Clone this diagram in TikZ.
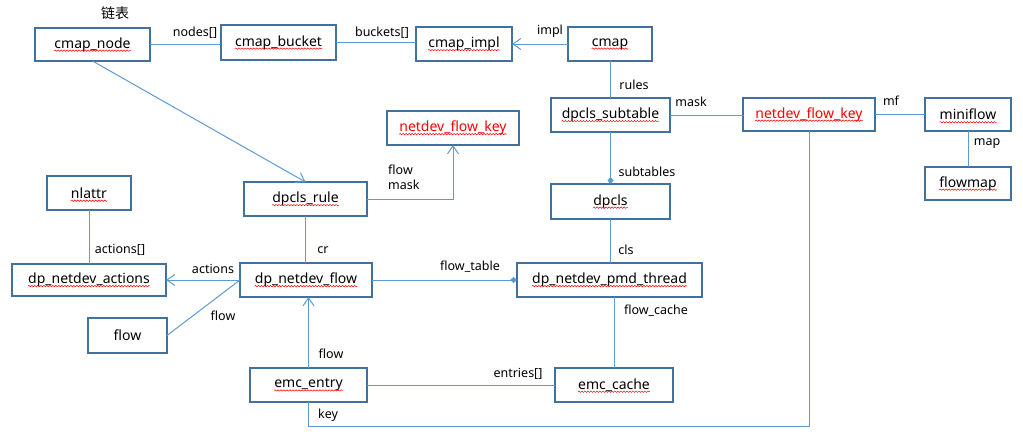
\documentclass[tikz,border=0pt]{standalone}
\usepackage{fontspec}
\setmainfont{Noto Sans}
\newfontfamily\cjk{Noto Sans CJK SC}
\usetikzlibrary{arrows.meta,decorations.pathmorphing}
\definecolor{linec}{HTML}{5B9BD5}
\definecolor{boxc}{HTML}{41719C}
\tikzset{
  box/.style={draw=boxc, line width=1.2pt, fill=white, inner sep=0pt, outer sep=0pt},
  boxtext/.style={inner sep=0pt, font=\fontsize{14}{16}\selectfont},
  lab/.style={inner sep=0pt, font=\fontsize{12.5}{15}\selectfont},
  squig/.style={draw=red, line width=0.5pt, decorate, decoration={snake, amplitude=0.7pt, segment length=3pt}},
  nosq/.style={draw=none},
  conn/.style={draw=linec, line width=1pt},
  openarr/.style={conn, -{Straight Barb[length=8pt,width=11pt]}},
  diam/.style={conn, -{Diamond[length=7pt,width=6pt,fill=linec]}},
}
\newcommand\bx[7][squig]{%
  \pgfmathsetmacro\bxw{#5-#3}%
  \pgfmathsetmacro\bxh{#6-#4}%
  \node[box, minimum width=\bxw pt, minimum height=\bxh pt] (#2) at ({(#3+#5)/2},{(#4+#6)/2}) {};
  \node[boxtext] (#2-t) at (#2) {#7};
  \path[#1] ([yshift=-2.5pt]#2-t.base west) -- ([yshift=-2.5pt]#2-t.base east);
}
\begin{document}
\begin{tikzpicture}[x=1pt, y=-1pt]
\fill[white] (0,0) rectangle (1023,439);
\useasboundingbox (0,0) rectangle (1023,439);

% connectors first (boxes drawn on top)
\coordinate (kb) at (0,426);

\bx{cn}{35}{28}{150}{61}{cmap\_node}
\bx{cb}{221}{25}{336}{60}{cmap\_bucket}
\bx{ci}{416}{27}{512}{61}{cmap\_impl}
\bx{cm}{568}{27}{652}{61}{cmap}
\bx{nfka}{387}{111}{519}{145}{\color{red}netdev\_flow\_key}
\bx{dst}{551}{98}{670}{132}{dpcls\_subtable}
\bx{nfkb}{743}{98}{875}{131}{\color{red}netdev\_flow\_key}
\bx{mfl}{925}{98}{1011}{131}{miniflow}
\bx{fm}{925}{167}{1011}{200}{flowmap}
\bx{dp}{551}{184}{670}{219}{dpcls}
\bx{nl}{47}{176}{131}{210}{nlattr}
\bx{dr}{244}{182}{367}{216}{dpcls\_rule}
\bx{dna}{12}{264}{166}{296}{dp\_netdev\_actions}
\bx{dnf}{240}{263}{372}{297}{dp\_netdev\_flow}
\bx{pmd}{517}{263}{702}{297}{dp\_netdev\_pmd\_thread}
\bx[nosq]{fl}{88}{318}{167}{353}{flow}
\bx{ee}{250}{368}{367}{402}{emc\_entry}
\bx{ec}{555}{368}{673}{402}{emc\_cache}

% connectors
\draw[conn] (cn.east) -- (cn.east -| cb.west);
\draw[conn] (cb.east) -- (cb.east -| ci.west);
\draw[openarr] (cm.west) -- (cm.west -| ci.east);
\draw[conn] (cm.south) -- (cm.south |- dst.north);
\draw[conn] (dst.east) -- (dst.east -| nfkb.west);
\draw[conn] (nfkb.east) -- (nfkb.east -| mfl.west);
\draw[conn] (mfl.south) -- (mfl.south |- fm.north);
\draw[diam] (dst.south) -- (dst.south |- dp.north);
\draw[conn] (dp.south) -- (dp.south |- pmd.north);
\draw[diam] (dnf.east) -- (dnf.east -| pmd.west);
\draw[openarr] (dnf.west) -- (dnf.west -| dna.east);
\draw[conn] (nl.south) -- (nl.south |- dna.north);
\draw[conn] (dr.south) -- (dr.south |- dnf.north);
\draw[openarr] (dr.east) -| (nfka.south);
\draw[openarr] (cn.south) -- (dr.north);
\draw[conn] (fl.east) -- (dnf.west);
\draw[openarr] (ee.north) -- (ee.north |- dnf.south);
\draw[conn] (ee.east) -- (ee.east -| ec.west);
\draw[conn] (ec.north) -- (ec.north |- pmd.south);
\draw[conn] (ee.south) -- (ee.south |- kb) -| (nfkb.south);

% labels
\node[inner sep=0pt, font=\cjk\fontsize{14}{16}\selectfont] (t1) at (115,13) {链表};
\node[lab] (l1) at (195,33) {nodes[]};
\node[lab] (l2) at (382,33) {buckets[]};
\node[lab] (l3) at (550,31) {impl};
\node[lab] (l4) at (634,85) {rules};
\node[lab] (l5) at (691,102) {mask};
\node[lab] (l6) at (891,101) {mf};
\node[lab] (l7) at (987,144) {map};
\node[lab] (l8) at (647,172) {subtables};
\node[lab, anchor=west, align=left] (l9) at (388,177) {flow\\mask};
\node[lab] (l10) at (323,250) {cr};
\node[lab] (l11) at (120,250) {actions[]};
\node[lab] (l12) at (213,269) {actions};
\node[lab] (l13) at (470,267) {flow\_table};
\node[lab] (l14) at (626,250) {cls};
\node[lab] (l15) at (223,316) {flow};
\node[lab] (l16) at (656,311) {flow\_cache};
\node[lab] (l17) at (331,354) {flow};
\node[lab] (l18) at (518,374) {entries[]};
\node[lab] (l19) at (328,415) {key};
\end{tikzpicture}
\end{document}
